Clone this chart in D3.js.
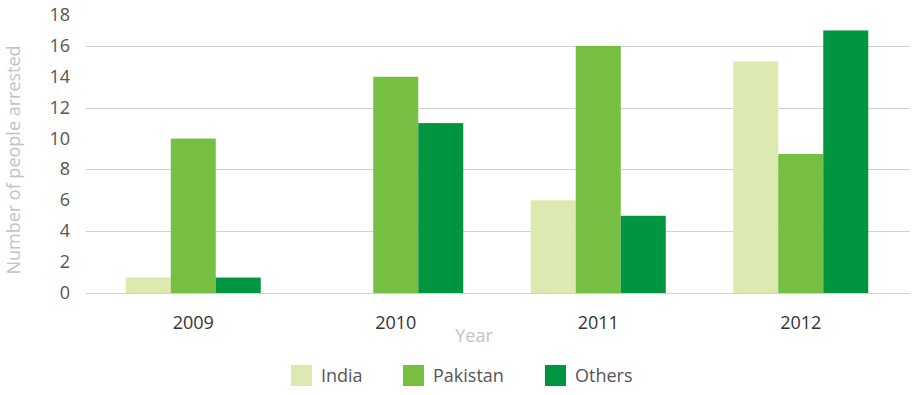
<!DOCTYPE html>
<html>
<head>
<meta charset="utf-8">
<script src="https://cdn.jsdelivr.net/npm/d3@7"></script>
<style>
  body { margin: 0; background: #fff; }
  text { font-family: "Open Sans", "Noto Sans", sans-serif; }
</style>
</head>
<body>
<div id="chart"></div>
<script>
// arrests per year, by nationality
var years = ["2009", "2010", "2011", "2012"];
var series = ["India", "Pakistan", "Others"];
var india = [1, 0, 6, 15];
var pakistan = [10, 14, 16, 9];
var others = [1, 11, 5, 17];
var yTicks = [0, 2, 4, 6, 8, 10, 12, 14, 16, 18];
var gridTicks = [0, 4, 8, 12, 16];
var colors = ["#dce9b0", "#76bf43", "#00963f"];

var w = 912, h = 395;
var values = [india, pakistan, others];

var svg = d3.select("#chart").append("svg")
    .attr("width", w)
    .attr("height", h);

var y = d3.scaleLinear().domain([0, 18]).range([293, 15]);
var x0 = d3.scaleBand().domain(years).range([92, 902])
    .paddingInner(1 - 135 / 202.5).paddingOuter((1 - 135 / 202.5) / 2);
var x1 = d3.scaleBand().domain(series).range([0, x0.bandwidth()]);
var color = d3.scaleOrdinal().domain(series).range(colors);

// grid lines (every other tick)
svg.selectAll("line.grid")
    .data(gridTicks)
    .enter().append("line")
    .attr("class", "grid")
    .attr("x1", 86).attr("x2", 910)
    .attr("y1", d => Math.round(y(d)) + 0.5)
    .attr("y2", d => Math.round(y(d)) + 0.5)
    .attr("stroke", "#d2d2d2")
    .attr("stroke-width", 1);

// y tick labels
svg.selectAll("text.ytick")
    .data(yTicks)
    .enter().append("text")
    .attr("class", "ytick")
    .attr("x", 70)
    .attr("y", d => y(d) + 6)
    .attr("text-anchor", "end")
    .attr("font-size", 18)
    .attr("fill", "#555")
    .text(d => d);

// bars
var groups = svg.selectAll("g.year")
    .data(years)
    .enter().append("g")
    .attr("class", "year")
    .attr("transform", d => `translate(${x0(d)},0)`);

groups.selectAll("rect")
    .data((d, i) => series.map((s, j) => ({ s: s, v: values[j][i] })))
    .enter().append("rect")
    .attr("x", d => x1(d.s))
    .attr("width", x1.bandwidth())
    .attr("y", d => y(d.v))
    .attr("height", d => y(0) - y(d.v))
    .attr("fill", d => color(d.s));

// x labels
svg.selectAll("text.xtick")
    .data(years)
    .enter().append("text")
    .attr("class", "xtick")
    .attr("x", d => x0(d) + x0.bandwidth() / 2)
    .attr("y", 329)
    .attr("text-anchor", "middle")
    .attr("font-size", 18)
    .attr("fill", "#333")
    .text(d => d);

// axis titles
svg.append("text")
    .attr("x", 474).attr("y", 342)
    .attr("text-anchor", "middle")
    .attr("font-size", 18)
    .attr("fill", "#c3c3c3")
    .text("Year");

svg.append("text")
    .attr("transform", "translate(20,160) rotate(-90)")
    .attr("text-anchor", "middle")
    .attr("font-size", 18)
    .attr("fill", "#c3c3c3")
    .text("Number of people arrested");

// legend
var legendX = [291, 403, 545];
var legend = svg.selectAll("g.legend")
    .data(series)
    .enter().append("g")
    .attr("class", "legend")
    .attr("transform", (d, i) => `translate(${legendX[i]},365)`);

legend.append("rect")
    .attr("width", 21).attr("height", 21)
    .attr("fill", d => color(d));

legend.append("text")
    .attr("x", 30).attr("y", 17)
    .attr("font-size", 18)
    .attr("fill", "#555")
    .text(d => d);
</script>
</body>
</html>
